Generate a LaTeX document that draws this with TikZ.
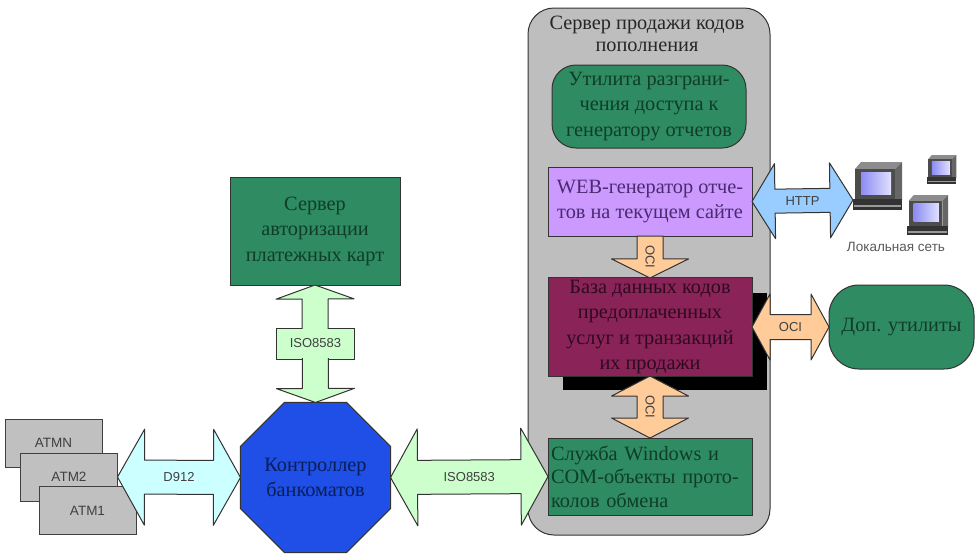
\documentclass[tikz,border=0pt]{standalone}
\usepackage{fontspec}
\setmainfont{Liberation Serif}
\setsansfont{Liberation Sans}
\usetikzlibrary{calc,shapes.geometric}
\definecolor{panelgray}{HTML}{BEBEBE}
\definecolor{boxgreen}{HTML}{2E8B62}
\definecolor{inkgreen}{HTML}{0F3D28}
\definecolor{boxlilac}{HTML}{CC99FF}
\definecolor{inklilac}{HTML}{4A2A70}
\definecolor{boxwine}{HTML}{8A2458}
\definecolor{inkwine}{HTML}{2E0A20}
\definecolor{octblue}{HTML}{1F4FE6}
\definecolor{inkblue}{HTML}{0A1E55}
\definecolor{arrowgreen}{HTML}{CCFFCC}
\definecolor{arrowcyan}{HTML}{CCFFFF}
\definecolor{arrowblue}{HTML}{99CCFF}
\definecolor{arroworange}{HTML}{FFCC99}
\definecolor{atmgray}{HTML}{C0C0C0}
\tikzset{
  x=1pt,y=-1pt,
  block/.style={draw=black!80,line width=1pt,outer sep=0pt,inner sep=2pt,align=center,
    font=\fontsize{20.3}{25.5}\selectfont},
  greenbox/.style={block,fill=boxgreen,text=inkgreen},
  atm/.style={draw=black!75,line width=1pt,fill=atmgray,outer sep=0pt,minimum width=97pt,minimum height=48pt,
    font=\sffamily\fontsize{13.5}{15}\selectfont,text=black!75},
  arrowtext/.style={font=\sffamily\fontsize{13}{15}\selectfont,text=black!75,inner sep=0pt},
  dblarrow/.style n args={3}{draw=black!80,line width=1pt,line join=round,
    to path={
      -- ($(\tikztostart)!#3!(\tikztotarget)!#1!90:(\tikztotarget)$)
      -- ($(\tikztostart)!#3!(\tikztotarget)!#2!90:(\tikztotarget)$)
      -- ($(\tikztotarget)!#3!(\tikztostart)!#2!-90:(\tikztostart)$)
      -- ($(\tikztotarget)!#3!(\tikztostart)!#1!-90:(\tikztostart)$)
      -- (\tikztotarget)
      -- ($(\tikztotarget)!#3!(\tikztostart)!#1!90:(\tikztostart)$)
      -- ($(\tikztotarget)!#3!(\tikztostart)!#2!90:(\tikztostart)$)
      -- ($(\tikztostart)!#3!(\tikztotarget)!#2!-90:(\tikztotarget)$)
      -- ($(\tikztostart)!#3!(\tikztotarget)!#1!-90:(\tikztotarget)$)
      -- cycle
      ($(\tikztostart)!.5!(\tikztotarget)$) -- ($(\tikztostart)!.5!(\tikztotarget)$) \tikztonodes
    }},
  onearrow/.style n args={3}{draw=black!80,line width=1pt,line join=round,
    to path={
      ($(\tikztostart)!#2!90:(\tikztotarget)$)
      -- ($(\tikztotarget)!#3!(\tikztostart)!#2!-90:(\tikztostart)$)
      -- ($(\tikztotarget)!#3!(\tikztostart)!#1!-90:(\tikztostart)$)
      -- (\tikztotarget)
      -- ($(\tikztotarget)!#3!(\tikztostart)!#1!90:(\tikztostart)$)
      -- ($(\tikztotarget)!#3!(\tikztostart)!#2!90:(\tikztostart)$)
      -- ($(\tikztostart)!#2!-90:(\tikztotarget)$)
      -- cycle
      ($(\tikztostart)!.5!(\tikztotarget)$) -- ($(\tikztostart)!.5!(\tikztotarget)$) \tikztonodes
    }},
  terminal/.pic={
    \fill[black!45] (2,7) -- (8,0) -- (49,0) -- (42,7) -- cycle;
    \fill[black!60] (42,7) -- (49,0) -- (49,38) -- (42,40) -- cycle;
    \fill[black!70] (2,7) rectangle (42,38);
    \shade[left color=black!10!blue!45!white,right color=blue!12!white] (8,10) rectangle (38,32);
    \fill[black!80] (0,37) rectangle (49,48);
    \fill[black!40] (1,43) rectangle (48,45);
  }
}
\begin{document}
\begin{tikzpicture}
\useasboundingbox (0,0) rectangle (976,555);
\fill[white] (0,0) rectangle (976,555);

% server panel
\node[draw=black!80,line width=1pt,fill=panelgray,rounded corners=26pt,outer sep=0pt,
  minimum width=242pt,minimum height=527pt] (panel) at (649,271.5) {};
\node[align=center,inner sep=0pt,text=black!85,font=\fontsize{20.3}{22}\selectfont] (paneltitle) at (647,34)
  {Сервер продажи кодов\\пополнения};

\node[greenbox,rounded corners=24pt,minimum width=194pt,minimum height=83pt] (util) at (649,106.5)
  {Утилита разграни-\\чения доступа к\\генератору отчетов};
\node[block,fill=boxlilac,text=inklilac,minimum width=204pt,minimum height=69pt] (web) at (650,201.5)
  {WEB-генератор отче-\\тов на текущем сайте};
\fill[black] (563,293) rectangle (767,390);
\node[block,fill=boxwine,text=inkwine,minimum width=204pt,minimum height=98pt] (db) at (650,327)
  {База данных кодов\\предоплаченных\\услуг и транзакций\\их продажи};
\node[greenbox,align=left,anchor=center,minimum width=204pt,minimum height=77pt,text width=198pt,inner sep=3pt,
  font=\fontsize{20.3}{23.5}\selectfont] (svc) at (650,476.5)
  {Служба Windows и\\COM-объекты прото-\\колов обмена};

% left side
\node[greenbox,minimum width=170pt,minimum height=108pt] (auth) at (315,231)
  {Сервер\\авторизации\\платежных карт};
\node[draw=black!80,line width=1pt,fill=octblue,text=inkblue,regular polygon,regular polygon sides=8,
  minimum size=162.4pt,inner sep=0pt,outer sep=0pt,align=center,font=\fontsize{20.3}{25}\selectfont] (ctrl) at (315.5,477.5)
  {Контроллер\\банкоматов};
\node[atm] (atmn) at (53.5,443) {ATMN};
\node[atm] (atm2) at (69,477) {ATM2};
\node[atm] (atm1) at (87.5,510.5) {ATM1};

% right side
\node[greenbox,rounded corners=30pt,minimum width=145pt,minimum height=84pt] (extra) at (901.5,327)
  {Доп. утилиты};
\pic[scale=1] at (853,162) {terminal};
\pic[scale=.6] at (927,155) {terminal};
\pic[scale=.84] at (907,195) {terminal};
\coordinate (pc) at (853,200);
\node[font=\sffamily\fontsize{13.5}{15}\selectfont,text=black!65,inner sep=0pt] (lan) at (896,247) {Локальная сеть};

% block arrows
\node[draw=black!80,line width=1pt,fill=arrowgreen,outer sep=0pt,minimum width=78pt,minimum height=31pt] (isobox) at (315.5,343.5) {};
\path[dblarrow={39pt}{13pt}{14pt},fill=arrowgreen] (auth.south) to (ctrl.north);
\node[fill=arrowgreen,arrowtext,minimum width=77pt,minimum height=29pt] (isolabel) at (isobox) {ISO8583};
\path[dblarrow={48pt}{17pt}{27pt},fill=arrowcyan] (atm2.east) to node[arrowtext] {D912} (ctrl.west);
\path[dblarrow={48.5pt}{17pt}{27pt},fill=arrowgreen] (ctrl.east) to node[arrowtext] {ISO8583} (svc.west);
\path[dblarrow={37.5pt}{12pt}{23pt},fill=arrowblue] (web.east) to node[arrowtext] {HTTP} (pc);
\path[onearrow={38.5pt}{13pt}{19pt},fill=arroworange] (web.south) to node[arrowtext,rotate=-90] {OCI} (db.north);
\path[dblarrow={38.5pt}{13pt}{20pt},fill=arroworange] (db.south) to node[arrowtext,rotate=-90] {OCI} (svc.north);
\path[dblarrow={33pt}{12.5pt}{18pt},fill=arroworange] (db.east) to node[arrowtext] {OCI} (extra.west);
\end{tikzpicture}
\end{document}
